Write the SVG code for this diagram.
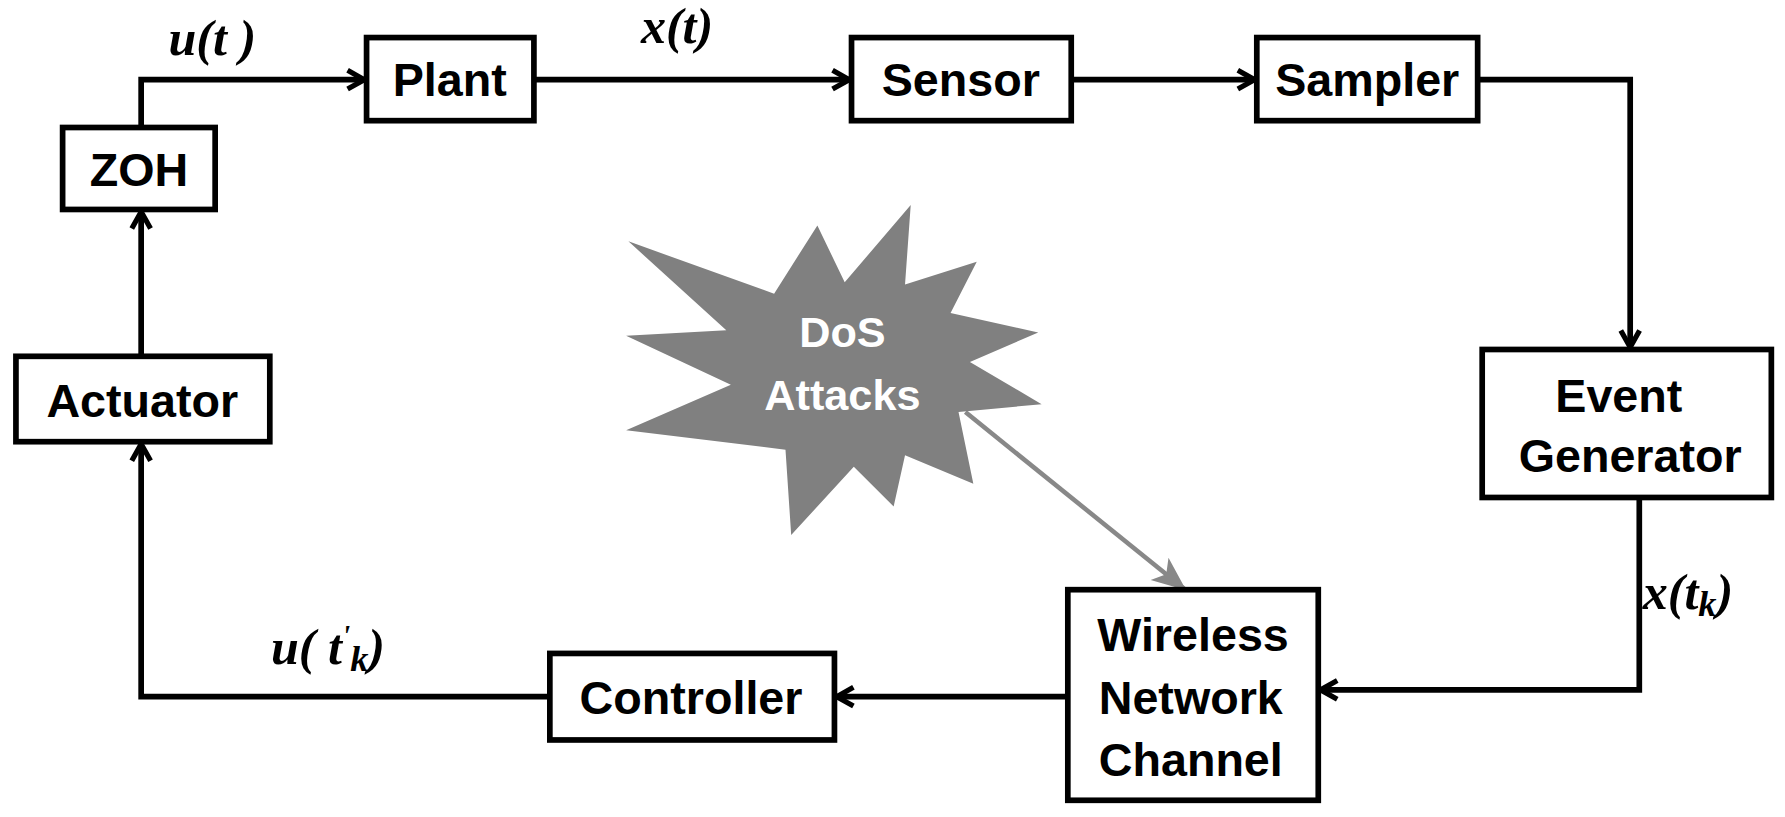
<svg xmlns="http://www.w3.org/2000/svg" width="1785" height="817" viewBox="0 0 1785 817">
<style>
.box{fill:#fff;stroke:#000;stroke-width:5}
.lbl{font-family:"Liberation Sans",Arial,sans-serif;font-weight:bold;font-size:41px;text-anchor:middle;fill:#000}
.math{font-family:"Liberation Serif","Times New Roman",serif;font-style:italic;font-weight:bold;font-size:44px;fill:#000}
.wire{fill:none;stroke:#000;stroke-width:5}
</style>
<defs>
<marker id="ah" viewBox="0 0 12 12" refX="11" refY="6" markerWidth="22" markerHeight="22" orient="auto" markerUnits="userSpaceOnUse">
<polyline points="3,1.5 11,6 3,10.5" fill="none" stroke="#000" stroke-width="2.5"/>
</marker>
<marker id="gh" viewBox="0 0 12 12" refX="11" refY="6" markerWidth="30" markerHeight="30" orient="auto" markerUnits="userSpaceOnUse">
<path d="M0,1 L12,6 L0,11 L3,6 Z" fill="#888"/>
</marker>
</defs>
<rect width="1785" height="817" fill="#fff"/>
<g transform="scale(1.1384)">
<g id="connectors">
<polyline class="wire" points="124,110 124,70 320,70" marker-end="url(#ah)"/>
<line class="wire" x1="469" y1="70" x2="746" y2="70" marker-end="url(#ah)"/>
<line class="wire" x1="941" y1="70" x2="1102" y2="70" marker-end="url(#ah)"/>
<polyline class="wire" points="1298,70 1432,70 1432,305" marker-end="url(#ah)"/>
<polyline class="wire" points="1440,437 1440,606 1160,606" marker-end="url(#ah)"/>
<line class="wire" x1="938" y1="612" x2="735" y2="612" marker-end="url(#ah)"/>
<polyline class="wire" points="483,612 124,612 124,390" marker-end="url(#ah)"/>
<line class="wire" x1="124" y1="313" x2="124" y2="186" marker-end="url(#ah)"/>
<line x1="848" y1="362" x2="1040" y2="517" stroke="#888" stroke-width="4" marker-end="url(#gh)"/>
</g>
<g id="labels">
<text class="math" x="148" y="48">u(t )</text>
<text class="math" x="563" y="38">x(t)</text>
<text class="math" x="1443" y="535">x(t<tspan font-size="32" dy="6">k</tspan><tspan dy="-6">)</tspan></text>
<text class="math" x="238" y="583">u( t<tspan font-size="26" dy="-16">'</tspan><tspan font-size="32" dy="22">k</tspan><tspan dy="-6">)</tspan></text>
</g>
<g id="dos">
<polygon fill="#808080" points="552,212 680,258 718,198 742,248 800,180 795,250 858,230 835,275 912,292 852,318 915,355 842,362 855,425 795,400 785,445 750,410 695,470 690,395 550,378 642,338 550,295 638,290"/>
<text class="lbl" x="740" y="305" style="fill:#fff;font-size:38px">DoS</text>
<text class="lbl" x="740" y="360" style="fill:#fff;font-size:38px">Attacks</text>
</g>
<g id="plant"><rect class="box" x="322" y="33" width="147" height="73"/><text class="lbl" x="395" y="84">Plant</text></g>
<g id="sensor"><rect class="box" x="748" y="33" width="193" height="73"/><text class="lbl" x="844" y="84">Sensor</text></g>
<g id="sampler"><rect class="box" x="1104" y="33" width="194" height="73"/><text class="lbl" x="1201" y="84">Sampler</text></g>
<g id="zoh"><rect class="box" x="55" y="112" width="134" height="72"/><text class="lbl" x="122" y="163">ZOH</text></g>
<g id="actuator"><rect class="box" x="14" y="313" width="223" height="75"/><text class="lbl" x="125" y="366">Actuator</text></g>
<g id="event"><rect class="box" x="1302" y="307" width="254" height="130"/><text class="lbl" x="1422" y="362">Event</text><text class="lbl" x="1432" y="415">Generator</text></g>
<g id="wireless"><rect class="box" x="938" y="518" width="220" height="185"/><text class="lbl" x="1048" y="572">Wireless</text><text class="lbl" x="1046" y="627">Network</text><text class="lbl" x="1046" y="682">Channel</text></g>
<g id="controller"><rect class="box" x="483" y="574" width="250" height="76"/><text class="lbl" x="607" y="627">Controller</text></g>
</g>
</svg>
